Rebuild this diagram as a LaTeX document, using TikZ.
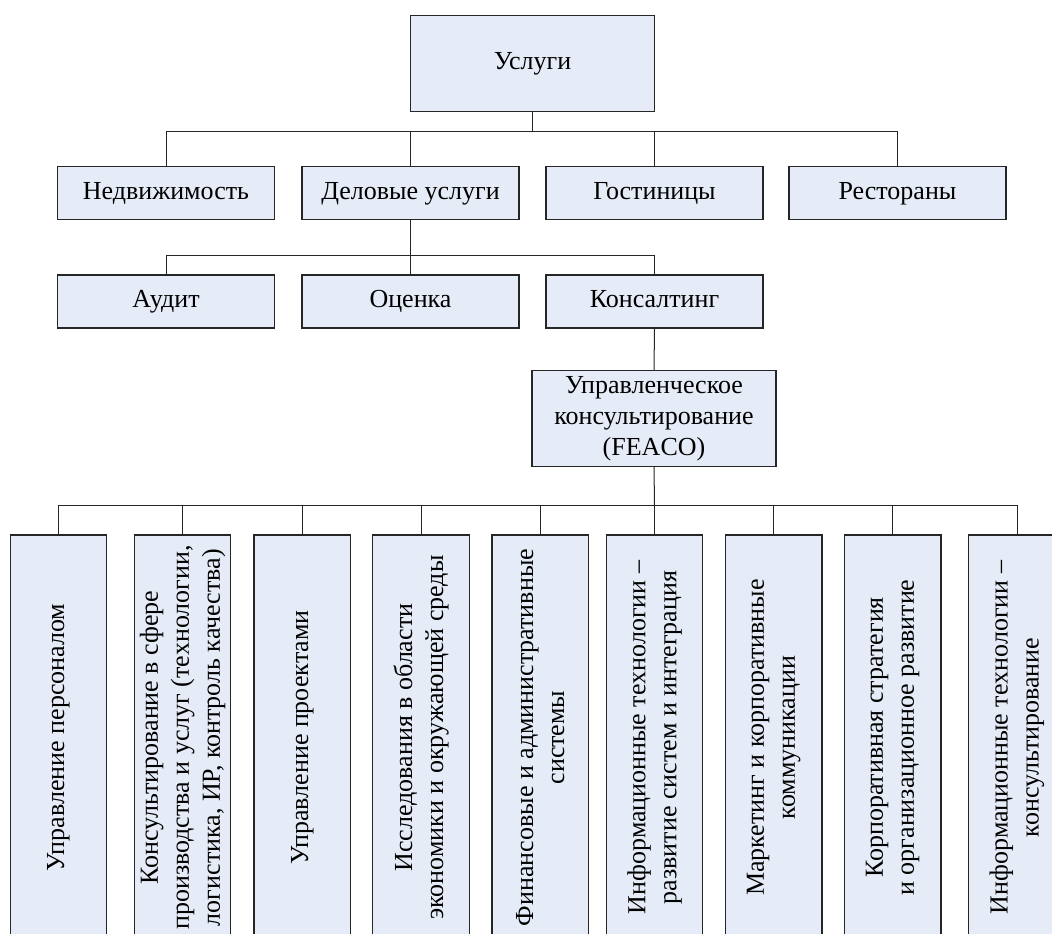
\documentclass[tikz,border=0pt]{standalone}
\usepackage{fontspec}
\setmainfont{Liberation Serif}
\definecolor{boxfill}{RGB}{230,236,247}
\definecolor{edge}{RGB}{38,38,38}
\begin{document}
\begin{tikzpicture}[x=1pt,y=-1pt,
  txt/.style={font=\fontsize{26}{31}\selectfont, text=black},
  hbox/.style={draw=edge, line width=1.2pt, fill=boxfill, inner sep=0pt,
    minimum width=217pt, minimum height=53pt, txt, text height=18pt, text depth=6pt},
  bigbox/.style={draw=edge, line width=1.2pt, fill=boxfill, inner sep=0pt,
    minimum width=244pt, minimum height=96pt, txt, align=center},
  vbox/.style={draw=edge, line width=1.2pt, fill=boxfill, inner sep=0pt,
    minimum width=96.5pt, minimum height=405pt},
  vtext/.style={txt, rotate=90, align=center, inner sep=0pt},
  link/.style={draw=edge, line width=1pt}]
\path[use as bounding box, clip] (0,0) rectangle (1052,934);
\fill[white] (0,0) rectangle (1052,934);

% top level
\node[bigbox, text height=18pt, text depth=6pt] (usl) at (532.5,63.5) {Услуги};

% second row
\node[hbox] (ned)  at (166,193) {Недвижимость};
\node[hbox] (del)  at (410.5,193) {Деловые услуги};
\node[hbox] (gost) at (654.5,193) {Гостиницы};
\node[hbox] (rest) at (897.5,193) {Рестораны};

% third row
\node[hbox] (aud)  at (166,301.5) {Аудит};
\node[hbox] (ocen) at (410.5,301.5) {Оценка};
\node[hbox] (kons) at (654.5,301.5) {Консалтинг};

% management consulting
\node[bigbox] (feaco) at (654,418.5) {Управленческое\\консультирование\\(FEACO)};

% bottom row of areas
\foreach \n/\x in {p1/58.5, p2/182.5, p3/302.3, p4/421, p5/540.3,
                   p6/654.5, p7/773.7, p8/892.7, p9/1017}
  \node[vbox] (\n) at (\x,737.5) {};

\node[vtext] at (p1) {Управление персоналом};
\node[vtext] at (p2) {Консультирование в сфере\\производства и услуг (технологии,\\логистика, ИР, контроль качества)};
\node[vtext] at (p3) {Управление проектами};
\node[vtext] at (p4) {Исследования в области\\экономики и окружающей среды};
\node[vtext] at (p5) {Финансовые и административные\\системы};
\node[vtext] at (p6) {Информационные технологии –\\развитие систем и интеграция};
\node[vtext] at (p7) {Маркетинг и корпоративные\\коммуникации};
\node[vtext] at (p8) {Корпоративная стратегия\\и организационное развитие};
\node[vtext] at (p9) {Информационные технологии –\\консультирование};

% bus lines
\coordinate (b1) at (532.5,131);
\coordinate (b2) at (410.5,255);
\coordinate (b3) at (654.5,505.5);

\draw[link] (usl.south) -- (b1);
\foreach \c in {ned,del,gost,rest}
  \draw[link] (b1) -| (\c.north);

\draw[link] (del.south) -- (b2);
\foreach \c in {aud,ocen,kons}
  \draw[link] (b2) -| (\c.north);

\draw[link] (kons.south) -- (feaco.north);

\draw[link] (feaco.south) -- (b3);
\foreach \c in {p1,p2,p3,p4,p5,p6,p7,p8,p9}
  \draw[link] (b3) -| (\c.north);
\end{tikzpicture}
\end{document}
